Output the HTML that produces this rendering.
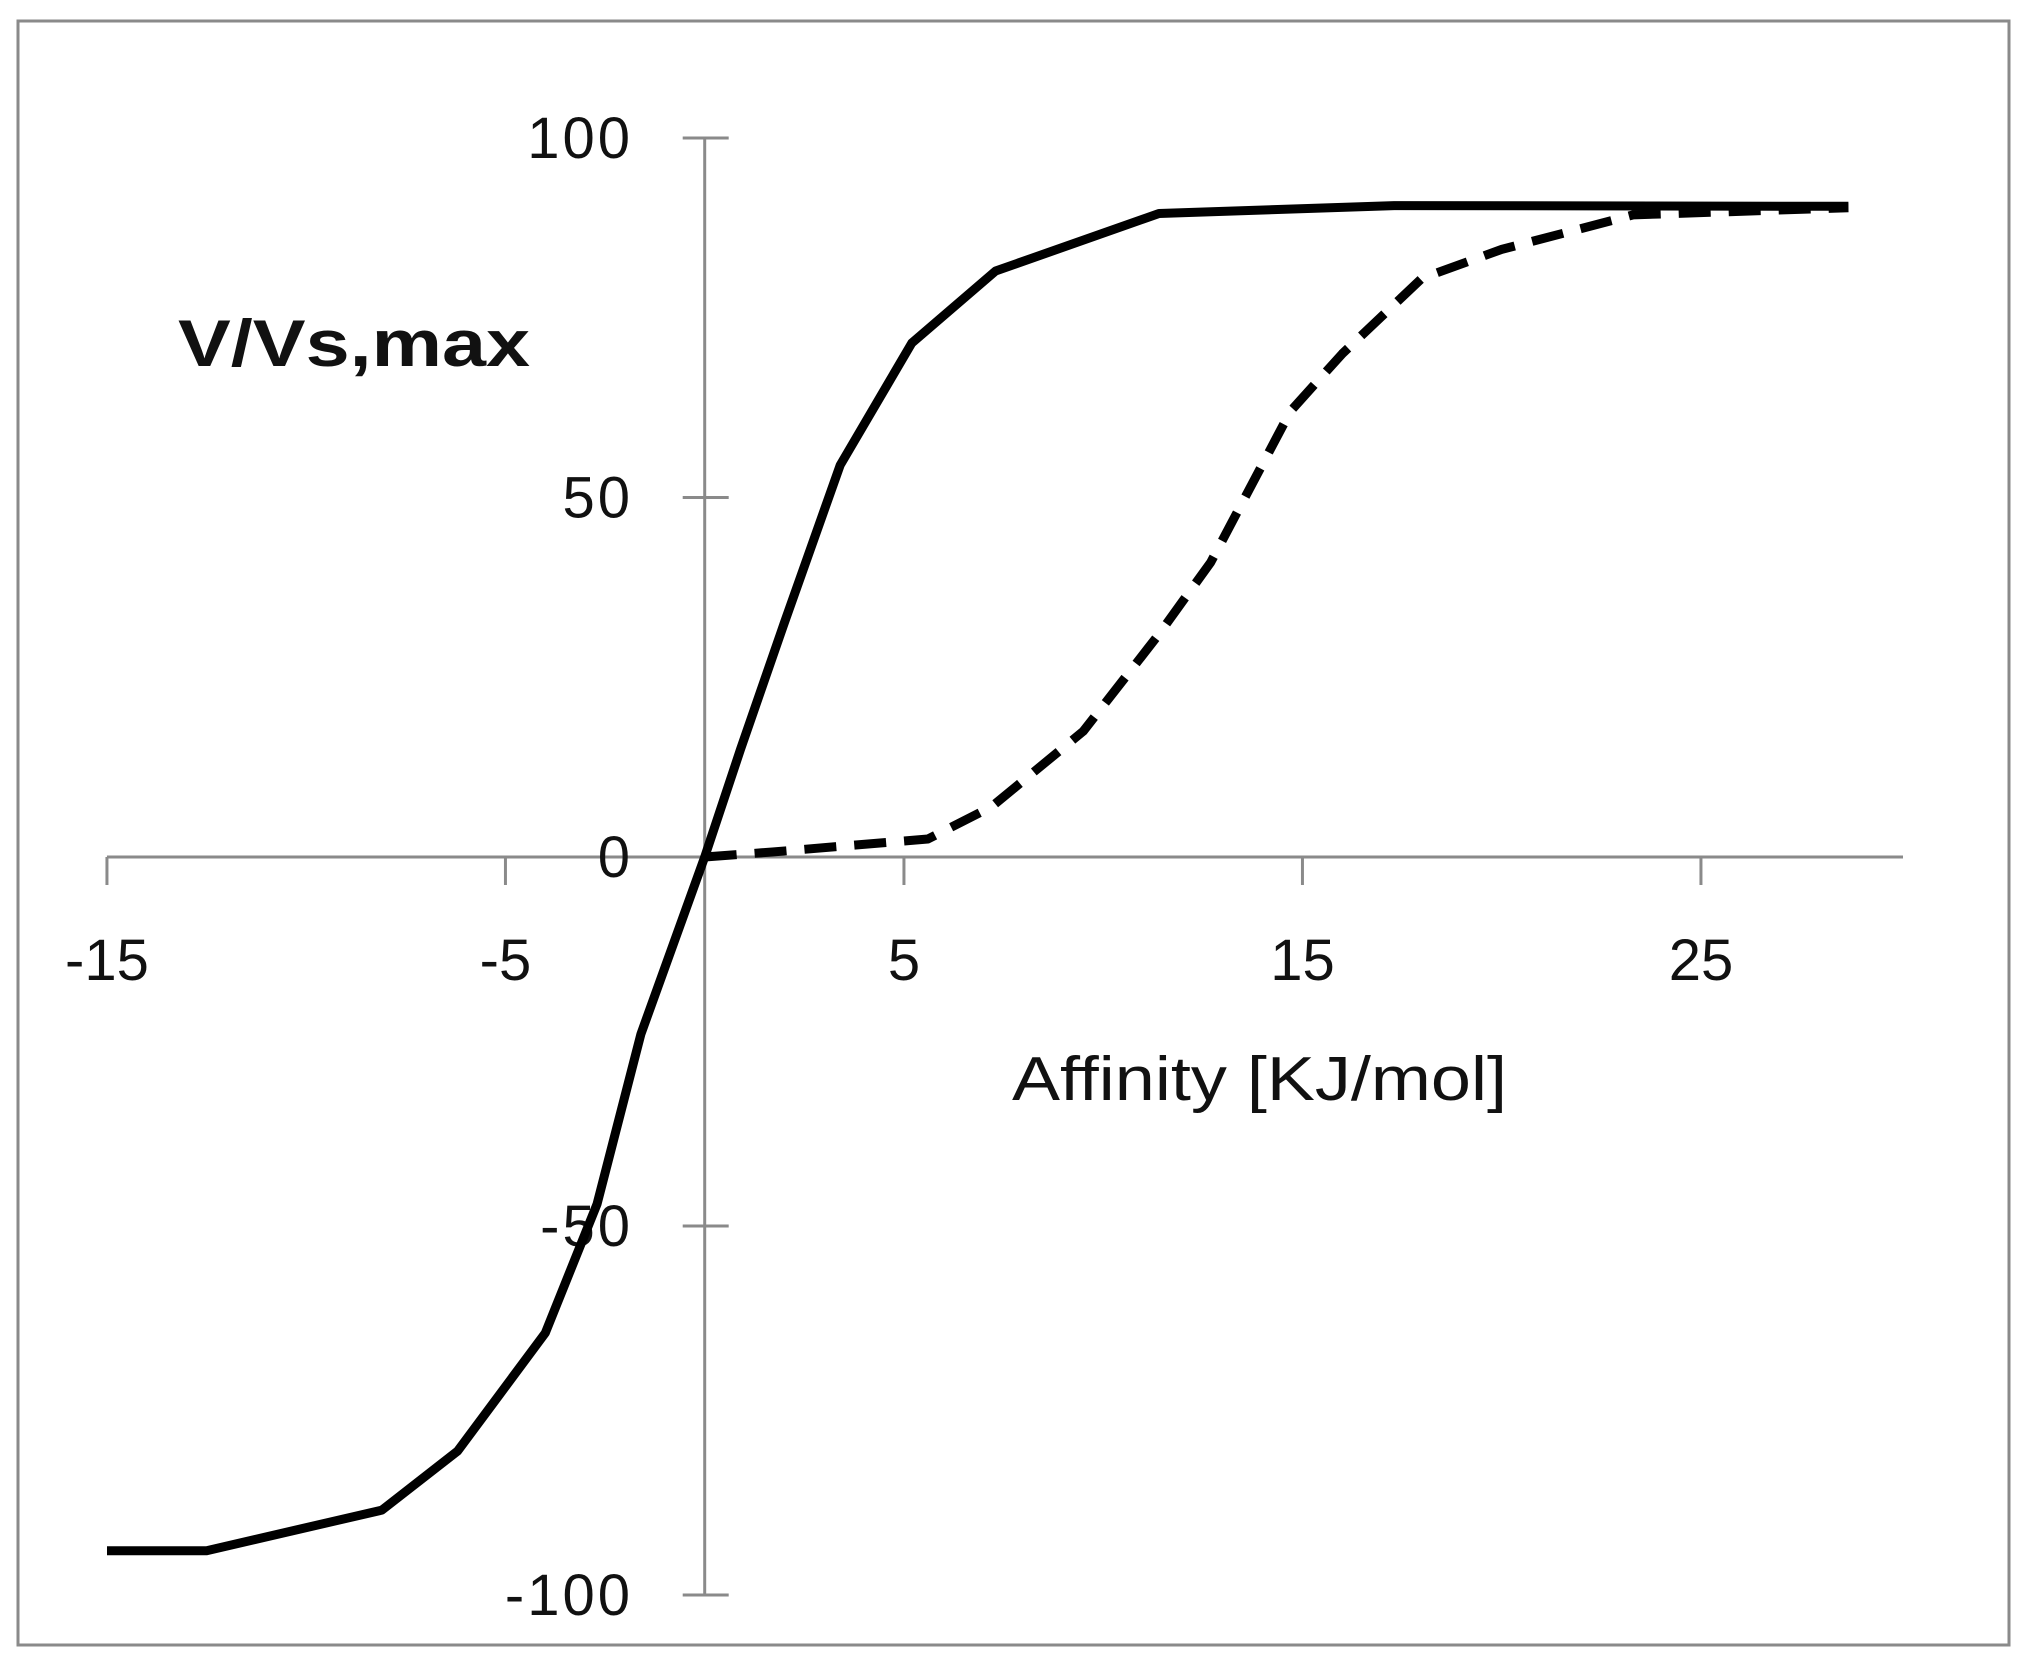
<!DOCTYPE html>
<html><head><meta charset="utf-8"><style>
html,body{margin:0;padding:0;background:#fff}
svg{display:block}
text{font-family:"Liberation Sans",sans-serif}
</style></head><body>
<svg id="chart" width="2027" height="1666">
<rect x="18" y="21" width="1991" height="1624" fill="#fff" stroke="#8a8a8a" stroke-width="3"/>
<g id="axes"></g>
<g id="series"></g>
<text x="178" y="366" font-size="66" font-weight="bold" fill="#111" textLength="352" lengthAdjust="spacingAndGlyphs">V/Vs,max</text>
<text x="1012" y="1100" font-size="62" fill="#111" textLength="495" lengthAdjust="spacingAndGlyphs">Affinity [KJ/mol]</text>
</svg>
<script>
const xTicks=[-15,-5,5,15,25];
const yTicks=[-100,-50,0,50,100];
const solidX=[-15,-12.5,-8.1,-6.2,-4,-2.7,-1.6,0,0.9,2,3.4,5.2,7.3,11.4,17.3,28.7];
const solidY=[-94,-94,-88.5,-80.5,-64.5,-47,-24,0,15,32.6,54.5,71.5,81.5,89.5,90.6,90.5];
const dashX=[0,1.7,5.6,7.2,9.5,11.4,12.7,14.7,16,18,20,23.3,28.7];
const dashY=[0,0.7,2.5,7,17.5,31,41,62,70,80.5,84.5,89.3,90.3];
const NS="http://www.w3.org/2000/svg";
function sx(v){return 704.7+v*39.85;}
function sy(v){return v>=0?857-v*7.19:857-v*7.38;}
function mk(tag,attrs,parent){const e=document.createElementNS(NS,tag);for(const k in attrs)e.setAttribute(k,attrs[k]);parent.appendChild(e);return e;}
const ax=document.getElementById('axes');
const g='#8a8a8a';
let l=mk('line',{x1:sx(-15),x2:1903,y1:sy(0),y2:sy(0),stroke:g,'stroke-width':3},ax);


l=mk('line',{x1:sx(0),x2:sx(0),y1:sy(100),y2:sy(-100),stroke:g,'stroke-width':3},ax);


xTicks.forEach(v=>{
 const t=mk('line',{x1:sx(v),x2:sx(v),y1:sy(0),y2:sy(0)+28,stroke:g,'stroke-width':3},ax);
 
 
 const tx=mk('text',{x:sx(v),y:980,'font-size':58,'text-anchor':'middle',fill:'#111'},ax);
 tx.textContent=String(v);
 
 
});
yTicks.forEach(v=>{
 const t=mk('line',{x1:sx(0)-22,x2:sx(0)+24,y1:sy(v),y2:sy(v),stroke:g,'stroke-width':3},ax);
 
 
 const tx=mk('text',{x:633,y:sy(v)+20,'font-size':58,'text-anchor':'end',fill:'#111','letter-spacing':'3'},ax);
 tx.textContent=String(v);
 
 
});
const se=document.getElementById('series');
function pts(xs,ys){return xs.map((x,i)=>sx(x).toFixed(1)+','+sy(ys[i]).toFixed(1)).join(' ');}
let p=mk('polyline',{points:pts(dashX,dashY),fill:'none',stroke:'#000','stroke-width':9,'stroke-dasharray':'32 18','stroke-linejoin':'round'},se);


p=mk('polyline',{points:pts(solidX,solidY),fill:'none',stroke:'#000','stroke-width':9,'stroke-linejoin':'round'},se);


</script>
</body></html>
